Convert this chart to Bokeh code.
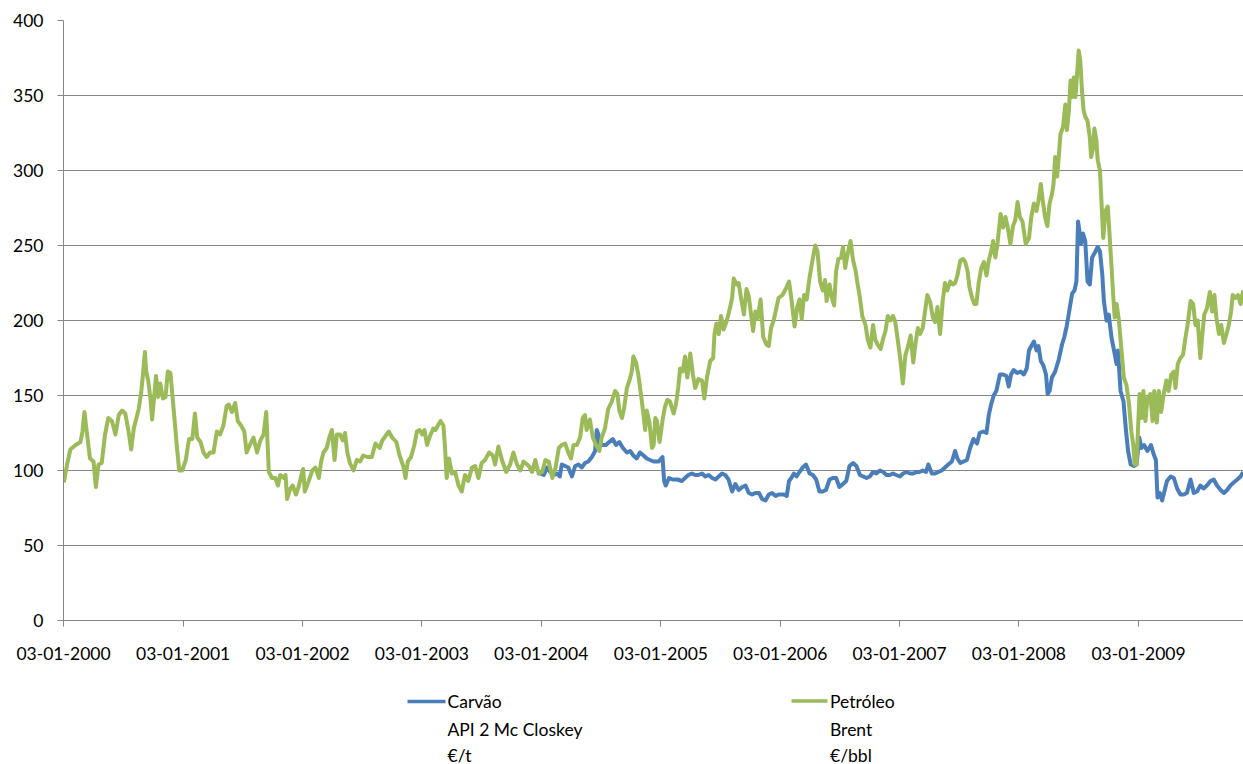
import pandas as pd
from bokeh.plotting import figure
from bokeh.models import FixedTicker, DatetimeTickFormatter, Range1d
from bokeh.layouts import column
from bokeh.embed import file_html
from bokeh.resources import INLINE
from bokeh.core.properties import value

# ---------------- data ----------------
petroleo_dates = [
    "2000-01-04", "2000-01-14", "2000-01-24", "2000-02-09", "2000-02-24", "2000-03-01", "2000-03-07", "2000-03-14",
    "2000-03-24", "2000-04-04", "2000-04-11", "2000-04-19", "2000-04-29", "2000-05-09", "2000-05-19", "2000-05-30",
    "2000-06-10", "2000-06-20", "2000-06-30", "2000-07-10", "2000-07-20", "2000-07-28", "2000-08-05", "2000-08-20",
    "2000-08-28", "2000-09-02", "2000-09-08", "2000-09-12", "2000-09-18", "2000-09-25", "2000-09-30", "2000-10-05",
    "2000-10-12", "2000-10-18", "2000-10-25", "2000-11-02", "2000-11-10", "2000-11-17", "2000-11-25", "2000-12-02",
    "2000-12-10", "2000-12-15", "2000-12-22", "2000-12-31", "2001-01-11", "2001-01-21", "2001-01-31", "2001-02-08",
    "2001-02-15", "2001-02-25", "2001-03-06", "2001-03-16", "2001-03-26", "2001-04-06", "2001-04-16", "2001-04-26",
    "2001-05-06", "2001-05-16", "2001-05-23", "2001-06-01", "2001-06-11", "2001-06-19", "2001-06-29", "2001-07-09",
    "2001-07-16", "2001-07-26", "2001-08-06", "2001-08-17", "2001-08-27", "2001-09-06", "2001-09-14", "2001-09-22",
    "2001-10-02", "2001-10-12", "2001-10-20", "2001-10-27", "2001-11-07", "2001-11-12", "2001-11-17", "2001-11-27",
    "2001-12-04", "2001-12-14", "2001-12-22", "2002-01-02", "2002-01-05", "2002-01-10", "2002-01-22", "2002-02-02",
    "2002-02-12", "2002-02-22", "2002-03-01", "2002-03-08", "2002-03-18", "2002-03-26", "2002-04-03", "2002-04-11",
    "2002-04-18", "2002-04-28", "2002-05-06", "2002-05-13", "2002-05-20", "2002-05-28", "2002-06-08", "2002-06-18",
    "2002-06-28", "2002-07-08", "2002-07-20", "2002-08-03", "2002-08-14", "2002-08-27", "2002-09-04", "2002-09-14",
    "2002-09-24", "2002-10-04", "2002-10-17", "2002-10-27", "2002-11-07", "2002-11-14", "2002-11-21", "2002-12-01",
    "2002-12-11", "2002-12-19", "2002-12-27", "2003-01-04", "2003-01-11", "2003-01-19", "2003-01-28", "2003-02-07",
    "2003-02-14", "2003-02-21", "2003-03-01", "2003-03-10", "2003-03-15", "2003-03-20", "2003-03-27", "2003-04-05",
    "2003-04-15", "2003-04-25", "2003-05-05", "2003-05-15", "2003-05-25", "2003-06-05", "2003-06-15", "2003-06-25",
    "2003-07-05", "2003-07-15", "2003-07-28", "2003-08-08", "2003-08-15", "2003-08-25", "2003-09-05", "2003-09-18",
    "2003-09-30", "2003-10-10", "2003-10-21", "2003-10-31", "2003-11-10", "2003-11-26", "2003-12-06", "2003-12-16",
    "2003-12-26", "2004-01-06", "2004-01-16", "2004-01-26", "2004-02-06", "2004-02-16", "2004-02-26", "2004-03-06",
    "2004-03-16", "2004-03-26", "2004-04-03", "2004-04-11", "2004-04-21", "2004-05-01", "2004-05-09", "2004-05-16",
    "2004-05-21", "2004-05-31", "2004-06-09", "2004-06-19", "2004-06-29", "2004-07-06", "2004-07-16", "2004-07-26",
    "2004-08-06", "2004-08-16", "2004-08-23", "2004-08-29", "2004-09-06", "2004-09-13", "2004-09-21", "2004-09-29",
    "2004-10-06", "2004-10-11", "2004-10-19", "2004-10-26", "2004-11-03", "2004-11-11", "2004-11-16", "2004-11-21",
    "2004-11-29", "2004-12-07", "2004-12-12", "2004-12-17", "2004-12-22", "2004-12-30", "2005-01-08", "2005-01-15",
    "2005-01-23", "2005-01-31", "2005-02-11", "2005-02-18", "2005-02-25", "2005-03-03", "2005-03-11", "2005-03-18",
    "2005-03-25", "2005-04-03", "2005-04-11", "2005-04-18", "2005-04-28", "2005-05-09", "2005-05-16", "2005-05-24",
    "2005-06-03", "2005-06-12", "2005-06-16", "2005-06-22", "2005-06-29", "2005-07-06", "2005-07-14", "2005-07-24",
    "2005-08-02", "2005-08-09", "2005-08-14", "2005-08-22", "2005-08-29", "2005-09-06", "2005-09-14", "2005-09-22",
    "2005-09-29", "2005-10-06", "2005-10-12", "2005-10-19", "2005-10-26", "2005-11-04", "2005-11-12", "2005-11-22",
    "2005-11-29", "2005-12-06", "2005-12-14", "2005-12-22", "2005-12-29", "2006-01-10", "2006-01-20", "2006-01-30",
    "2006-02-06", "2006-02-16", "2006-02-24", "2006-03-03", "2006-03-10", "2006-03-17", "2006-03-25", "2006-04-03",
    "2006-04-10", "2006-04-20", "2006-04-27", "2006-05-05", "2006-05-13", "2006-05-20", "2006-05-25", "2006-06-03",
    "2006-06-10", "2006-06-17", "2006-06-23", "2006-06-30", "2006-07-08", "2006-07-14", "2006-07-21", "2006-07-28",
    "2006-08-06", "2006-08-14", "2006-08-21", "2006-08-28", "2006-09-04", "2006-09-11", "2006-09-21", "2006-09-28",
    "2006-10-06", "2006-10-14", "2006-10-21", "2006-10-28", "2006-11-06", "2006-11-14", "2006-11-21", "2006-11-28",
    "2006-12-06", "2006-12-14", "2006-12-21", "2006-12-28", "2007-01-06", "2007-01-13", "2007-01-21", "2007-01-28",
    "2007-02-06", "2007-02-14", "2007-02-21", "2007-02-28", "2007-03-07", "2007-03-15", "2007-03-22", "2007-03-29",
    "2007-04-07", "2007-04-15", "2007-04-22", "2007-04-29", "2007-05-07", "2007-05-15", "2007-05-22", "2007-05-29",
    "2007-06-07", "2007-06-15", "2007-06-22", "2007-06-29", "2007-07-08", "2007-07-16", "2007-07-23", "2007-07-30",
    "2007-08-05", "2007-08-13", "2007-08-20", "2007-08-26", "2007-09-02", "2007-09-10", "2007-09-18", "2007-09-26",
    "2007-10-03", "2007-10-10", "2007-10-16", "2007-10-23", "2007-10-30", "2007-11-08", "2007-11-16", "2007-11-23",
    "2007-11-30", "2007-12-08", "2007-12-16", "2007-12-23", "2007-12-30", "2008-01-06", "2008-01-14", "2008-01-24",
    "2008-02-03", "2008-02-10", "2008-02-18", "2008-02-26", "2008-03-03", "2008-03-10", "2008-03-16", "2008-03-23",
    "2008-03-30", "2008-04-06", "2008-04-13", "2008-04-18", "2008-04-23", "2008-04-29", "2008-05-04", "2008-05-09",
    "2008-05-17", "2008-05-24", "2008-05-29", "2008-06-04", "2008-06-09", "2008-06-14", "2008-06-19", "2008-06-24",
    "2008-06-29", "2008-07-04", "2008-07-09", "2008-07-14", "2008-07-19", "2008-07-24", "2008-07-31", "2008-08-07",
    "2008-08-11", "2008-08-17", "2008-08-21", "2008-08-27", "2008-08-31", "2008-09-07", "2008-09-11", "2008-09-17",
    "2008-09-24", "2008-10-01", "2008-10-07", "2008-10-12", "2008-10-18", "2008-10-22", "2008-10-28", "2008-11-04",
    "2008-11-11", "2008-11-19", "2008-11-27", "2008-12-05", "2008-12-12", "2008-12-18", "2008-12-22", "2008-12-28",
    "2009-01-01", "2009-01-06", "2009-01-12", "2009-01-18", "2009-01-24", "2009-01-30", "2009-02-08", "2009-02-15",
    "2009-02-20", "2009-02-28", "2009-03-06", "2009-03-13", "2009-03-21", "2009-03-29", "2009-04-05", "2009-04-13",
    "2009-04-21", "2009-04-26", "2009-05-03", "2009-05-11", "2009-05-19", "2009-05-26", "2009-06-02", "2009-06-11",
    "2009-06-19", "2009-06-26", "2009-07-03", "2009-07-11", "2009-07-16", "2009-07-23", "2009-07-31", "2009-08-09",
    "2009-08-16", "2009-08-23", "2009-08-29", "2009-09-06", "2009-09-13", "2009-09-21", "2009-09-29", "2009-10-06",
    "2009-10-13", "2009-10-18", "2009-10-26", "2009-11-03", "2009-11-11", "2009-11-19",
]
petroleo_values = [
    92, 104, 114, 117, 119, 126, 139, 126,
    108, 106, 89, 104, 105, 124, 135, 133,
    124, 137, 140, 138, 126, 114, 128, 141,
    153, 164, 179, 166, 160, 148, 134, 146,
    163, 149, 158, 148, 149, 166, 165, 148,
    128, 115, 100, 100, 107, 121, 121, 138,
    122, 119, 112, 109, 112, 112, 126, 124,
    130, 143, 144, 139, 145, 133, 130, 126,
    112, 117, 122, 112, 120, 124, 139, 99,
    95, 95, 90, 97, 95, 97, 81, 88,
    90, 84, 89, 99, 101, 86, 93, 100,
    102, 95, 106, 112, 115, 122, 127, 107,
    124, 124, 120, 125, 112, 105, 100, 107,
    106, 110, 109, 109, 118, 115, 120, 123,
    126, 122, 119, 110, 103, 95, 106, 109,
    117, 126, 127, 124, 127, 117, 123, 128,
    127, 130, 133, 130, 115, 95, 108, 98,
    99, 90, 86, 97, 93, 102, 103, 95,
    105, 107, 112, 110, 104, 116, 107, 99,
    104, 112, 104, 100, 106, 103, 99, 107,
    98, 99, 107, 106, 95, 102, 115, 117,
    118, 112, 108, 117, 117, 122, 135, 137,
    127, 134, 122, 117, 113, 122, 128, 141,
    146, 153, 151, 140, 135, 142, 155, 160,
    166, 176, 172, 164, 151, 137, 127, 140,
    132, 115, 117, 135, 133, 119, 133, 142,
    147, 146, 138, 144, 155, 168, 166, 176,
    162, 178, 164, 155, 161, 160, 148, 162,
    173, 175, 191, 198, 191, 203, 194, 200,
    208, 215, 228, 224, 225, 214, 204, 221,
    216, 204, 193, 206, 201, 214, 189, 184,
    183, 195, 200, 208, 215, 217, 221, 226,
    215, 196, 209, 214, 201, 217, 214, 229,
    238, 250, 246, 226, 220, 227, 213, 224,
    215, 210, 233, 241, 242, 249, 235, 244,
    253, 240, 234, 224, 215, 203, 197, 187,
    182, 197, 187, 184, 181, 188, 193, 203,
    200, 203, 199, 188, 173, 158, 177, 182,
    190, 172, 185, 195, 191, 195, 206, 217,
    212, 202, 199, 209, 191, 213, 225, 220,
    226, 224, 225, 230, 240, 241, 239, 233,
    222, 215, 211, 211, 225, 235, 239, 230,
    240, 246, 253, 242, 252, 271, 262, 269,
    262, 251, 263, 267, 279, 269, 266, 251,
    255, 269, 278, 273, 280, 291, 280, 269,
    263, 278, 284, 291, 309, 296, 309, 324,
    329, 344, 327, 340, 360, 349, 362, 349,
    364, 380, 373, 353, 340, 336, 333, 322,
    309, 315, 328, 320, 307, 300, 282, 255,
    273, 276, 255, 237, 215, 202, 211, 200,
    182, 162, 157, 144, 126, 117, 104, 104,
    126, 151, 135, 153, 133, 148, 151, 133,
    153, 132, 153, 139, 151, 160, 153, 164,
    166, 155, 171, 175, 177, 188, 197, 213,
    211, 197, 200, 175, 188, 204, 208, 219,
    206, 217, 202, 191, 197, 185, 191, 197,
    206, 217, 215, 217, 211, 220,
]

carvao_dates = [
    "2003-12-26", "2003-12-31", "2004-01-11", "2004-01-21", "2004-01-31", "2004-02-11", "2004-02-21", "2004-02-29",
    "2004-03-06", "2004-03-16", "2004-03-26", "2004-04-06", "2004-04-16", "2004-04-26", "2004-05-06", "2004-05-16",
    "2004-05-26", "2004-06-06", "2004-06-16", "2004-06-21", "2004-06-26", "2004-07-01", "2004-07-09", "2004-07-19",
    "2004-07-29", "2004-08-09", "2004-08-19", "2004-08-29", "2004-09-09", "2004-09-21", "2004-10-01", "2004-10-11",
    "2004-10-21", "2004-10-31", "2004-11-11", "2004-11-21", "2004-12-01", "2004-12-12", "2004-12-27", "2005-01-08",
    "2005-01-13", "2005-01-18", "2005-01-28", "2005-02-08", "2005-02-23", "2005-03-08", "2005-03-18", "2005-03-28",
    "2005-04-08", "2005-04-18", "2005-04-28", "2005-05-09", "2005-05-19", "2005-05-29", "2005-06-09", "2005-06-19",
    "2005-06-29", "2005-07-09", "2005-07-19", "2005-07-29", "2005-08-09", "2005-08-19", "2005-08-29", "2005-09-09",
    "2005-09-19", "2005-09-29", "2005-10-09", "2005-10-19", "2005-10-30", "2005-11-09", "2005-11-19", "2005-11-29",
    "2005-12-09", "2005-12-20", "2005-12-29", "2006-01-15", "2006-01-23", "2006-01-30", "2006-02-06", "2006-02-14",
    "2006-02-22", "2006-03-03", "2006-03-13", "2006-03-23", "2006-04-03", "2006-04-13", "2006-04-23", "2006-05-03",
    "2006-05-13", "2006-05-23", "2006-06-03", "2006-06-13", "2006-06-23", "2006-07-03", "2006-07-14", "2006-07-24",
    "2006-08-03", "2006-08-14", "2006-08-24", "2006-09-04", "2006-09-14", "2006-09-24", "2006-10-04", "2006-10-14",
    "2006-10-24", "2006-11-04", "2006-11-14", "2006-11-24", "2006-12-04", "2006-12-14", "2006-12-24", "2007-01-04",
    "2007-01-14", "2007-01-24", "2007-02-04", "2007-02-14", "2007-02-24", "2007-03-05", "2007-03-15", "2007-03-25",
    "2007-04-01", "2007-04-12", "2007-04-22", "2007-05-02", "2007-05-12", "2007-05-22", "2007-06-01", "2007-06-12",
    "2007-06-22", "2007-06-29", "2007-07-08", "2007-07-18", "2007-07-28", "2007-08-07", "2007-08-17", "2007-08-28",
    "2007-09-05", "2007-09-16", "2007-09-26", "2007-10-03", "2007-10-10", "2007-10-18", "2007-10-26", "2007-11-06",
    "2007-11-16", "2007-11-26", "2007-12-03", "2007-12-10", "2007-12-18", "2007-12-29", "2008-01-08", "2008-01-18",
    "2008-01-27", "2008-02-03", "2008-02-10", "2008-02-18", "2008-02-26", "2008-03-03", "2008-03-10", "2008-03-18",
    "2008-03-26", "2008-03-31", "2008-04-06", "2008-04-13", "2008-04-23", "2008-05-04", "2008-05-14", "2008-05-21",
    "2008-05-29", "2008-06-07", "2008-06-14", "2008-06-21", "2008-06-27", "2008-07-02", "2008-07-06", "2008-07-11",
    "2008-07-17", "2008-07-24", "2008-07-31", "2008-08-07", "2008-08-14", "2008-08-24", "2008-08-31", "2008-09-07",
    "2008-09-14", "2008-09-19", "2008-09-27", "2008-10-04", "2008-10-12", "2008-10-20", "2008-10-28", "2008-11-01",
    "2008-11-09", "2008-11-18", "2008-11-25", "2008-12-02", "2008-12-10", "2008-12-20", "2008-12-28", "2009-01-05",
    "2009-01-12", "2009-01-20", "2009-01-30", "2009-02-10", "2009-02-18", "2009-02-25", "2009-03-02", "2009-03-09",
    "2009-03-16", "2009-03-23", "2009-03-31", "2009-04-11", "2009-04-21", "2009-05-01", "2009-05-11", "2009-05-21",
    "2009-05-31", "2009-06-11", "2009-06-21", "2009-07-01", "2009-07-11", "2009-07-21", "2009-07-31", "2009-08-11",
    "2009-08-21", "2009-08-31", "2009-09-11", "2009-09-21", "2009-10-01", "2009-10-11", "2009-10-21", "2009-11-01",
    "2009-11-11", "2009-11-19",
]
carvao_values = [
    98, 98, 97, 102, 99, 97, 98, 96,
    104, 103, 102, 96, 103, 104, 102, 105,
    106, 109, 113, 127, 124, 117, 117, 117,
    119, 121, 117, 119, 115, 112, 113, 110,
    108, 112, 110, 108, 107, 106, 106, 109,
    93, 90, 95, 94, 94, 93, 95, 97,
    98, 97, 97, 98, 96, 97, 95, 94,
    96, 98, 97, 94, 86, 91, 87, 89,
    90, 85, 84, 85, 85, 81, 80, 84,
    85, 83, 84, 84, 83, 93, 95, 98,
    96, 99, 102, 104, 98, 97, 94, 86,
    86, 87, 94, 95, 95, 89, 91, 93,
    103, 105, 103, 97, 96, 95, 96, 99,
    98, 100, 99, 97, 97, 98, 97, 96,
    98, 99, 98, 98, 99, 99, 100, 99,
    104, 98, 98, 99, 100, 102, 104, 106,
    113, 108, 105, 106, 107, 115, 121, 118,
    125, 126, 125, 137, 144, 150, 153, 164,
    164, 163, 156, 164, 167, 165, 166, 164,
    168, 180, 183, 186, 180, 183, 173, 170,
    164, 151, 153, 162, 166, 174, 184, 189,
    197, 209, 218, 220, 226, 266, 260, 251,
    258, 253, 226, 224, 242, 246, 249, 246,
    231, 213, 200, 204, 189, 180, 171, 180,
    153, 146, 128, 113, 104, 103, 104, 122,
    115, 117, 113, 117, 111, 107, 82, 85,
    80, 86, 93, 96, 95, 88, 84, 84,
    85, 94, 85, 86, 90, 88, 90, 93,
    94, 90, 87, 85, 87, 90, 92, 94,
    96, 99,
]

y_ticks = [0, 50, 100, 150, 200, 250, 300, 350, 400]
x_tick_dates = ["2000-01-03", "2001-01-03", "2002-01-03", "2003-01-03", "2004-01-03",
                "2005-01-03", "2006-01-03", "2007-01-03", "2008-01-03", "2009-01-03"]
x_start, x_end = "2000-01-03", "2009-11-20"

legend_carvao = ["Carvão", "API 2 Mc Closkey", "€/t"]
legend_petroleo = ["Petróleo", "Brent", "€/bbl"]

# ---------------- style ----------------
BLUE = "#4A7EBB"
GREEN = "#9BBB59"
GRID = "#878787"
FONT = "Lato"
FSIZE = "17.5px"

p = figure(width=1243, height=680, x_axis_type="datetime",
           output_backend="svg", toolbar_location=None,
           x_range=Range1d(pd.Timestamp(x_start), pd.Timestamp(x_end)),
           y_range=Range1d(0, 400),
           min_border_left=63, min_border_right=0, min_border_top=20, min_border_bottom=60)

p.line(pd.to_datetime(carvao_dates), carvao_values, line_color=BLUE, line_width=4, line_join="round")
p.line(pd.to_datetime(petroleo_dates), petroleo_values, line_color=GREEN, line_width=4, line_join="round")

p.outline_line_color = None
p.xgrid.visible = False
p.ygrid.ticker = FixedTicker(ticks=y_ticks)
p.ygrid.grid_line_color = GRID
p.ygrid.grid_line_width = 1

p.yaxis.ticker = FixedTicker(ticks=y_ticks)
p.xaxis.ticker = FixedTicker(ticks=[pd.Timestamp(d).value / 1e6 for d in x_tick_dates])
fmt = "%d-%m-%Y"
p.xaxis.formatter = DatetimeTickFormatter(milliseconds=fmt, seconds=fmt, minsec=fmt, minutes=fmt,
                                          hourmin=fmt, hours=fmt, days=fmt, months=fmt, years=fmt)

for ax in (p.xaxis, p.yaxis):
    ax.axis_line_color = GRID
    ax.axis_line_width = 1
    ax.major_tick_line_color = GRID
    ax.major_tick_out = 6
    ax.major_tick_in = 0
    ax.minor_tick_line_color = None
    ax.major_label_text_font = FONT
    ax.major_label_text_font_size = FSIZE
    ax.major_label_text_color = "#000000"
p.yaxis.major_label_standoff = 14
p.xaxis.major_label_standoff = 20

# ---------------- legend (separate strip below the plot) ----------------
# the column layout aligns this strip's frame with the chart frame (x 63..1243)
leg = figure(width=1243, height=84, output_backend="svg", toolbar_location=None,
             x_range=Range1d(63, 1243), y_range=Range1d(84, 0),
             x_axis_location=None, y_axis_location=None,
             min_border_left=63, min_border_right=0, min_border_top=0, min_border_bottom=0)
leg.outline_line_color = None
leg.xgrid.visible = False
leg.ygrid.visible = False

leg.segment(x0=[407, 791], y0=[21, 20.5], x1=[445, 827], y1=[21, 20.5],
            line_color=[BLUE, GREEN], line_width=3.5)
tx = [447] * 3 + [829.5] * 3
ty = [21, 48.5, 74.5] * 2
leg.text(x=tx, y=ty, text=legend_carvao + legend_petroleo,
         text_font=value(FONT), text_font_size=FSIZE, text_color="#000000",
         text_baseline="middle", text_align="left")

layout = column(p, leg, spacing=0)
open("out.html", "w").write(file_html(layout, INLINE))
